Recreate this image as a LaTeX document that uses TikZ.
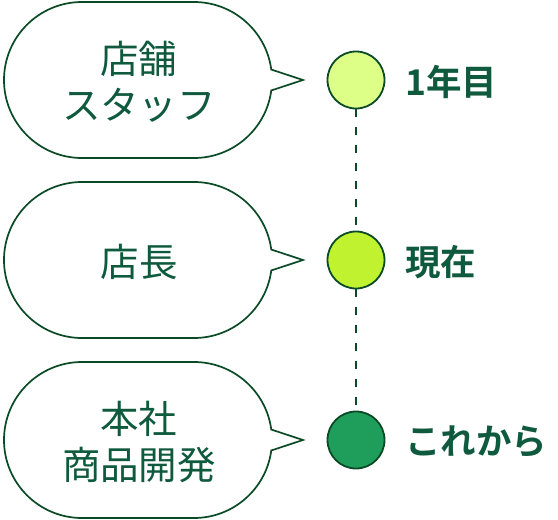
\documentclass[tikz,border=0pt]{standalone}
\usepackage{fontspec}
\newfontfamily\jp{Noto Sans CJK JP}
\newfontfamily\jpb{Noto Sans CJK JP Bold}
\definecolor{lineg}{HTML}{0B4A26}
\definecolor{textg}{HTML}{0F5A3E}
\definecolor{c1}{HTML}{DDFF88}
\definecolor{c2}{HTML}{C0F230}
\definecolor{c3}{HTML}{1E9E5A}
\tikzset{
  bubbletext/.style={text=textg, align=center, font=\jp\fontsize{38.5}{46}\selectfont, inner sep=0pt},
  dot/.style={circle, draw=lineg, line width=1.8pt, minimum size=57pt, inner sep=0pt},
  lbl/.style={anchor=west, text=textg, font=\jpb\fontsize{35.5}{40}\selectfont, inner sep=0pt},
  bubbleline/.style={draw=lineg, line width=1.7pt, fill=white},
  dashline/.style={draw=lineg, line width=2.2pt, dash pattern=on 8pt off 10pt}
}
\newcommand{\bubblepath}[1]{%
  \path[bubbleline] (303,#1) -- ($(194,#1)+(7.7:78)$) arc[start angle=7.7, end angle=90, radius=78]
    -- (82,#1+78) arc[start angle=90, end angle=270, radius=78]
    -- (194,#1-78) arc[start angle=270, end angle=352.3, radius=78] -- cycle;}
\usetikzlibrary{calc}
\begin{document}
\begin{tikzpicture}[x=1pt,y=1pt]
\useasboundingbox (0,0) rectangle (558,-520);
\bubblepath{-80}
\bubblepath{-260}
\bubblepath{-440}
\node[bubbletext] (b1) at (139,-82) {店舗\\スタッフ};
\node[bubbletext] (b2) at (139,-262) {店長};
\node[bubbletext] (b3) at (139,-442) {本社\\商品開発};
\node[dot, fill=c1] (d1) at (356,-80) {};
\node[dot, fill=c2] (d2) at (356,-260) {};
\node[dot, fill=c3] (d3) at (356,-440) {};
\path[dashline] (d1.south) -- (d2.north);
\path[dashline] (d2.south) -- (d3.north);
\node[lbl] (l1) at (405,-82) {1年目};
\node[lbl] (l2) at (405,-262) {現在};
\node[lbl] (l3) at (405,-442) {これから};
\end{tikzpicture}
\end{document}
